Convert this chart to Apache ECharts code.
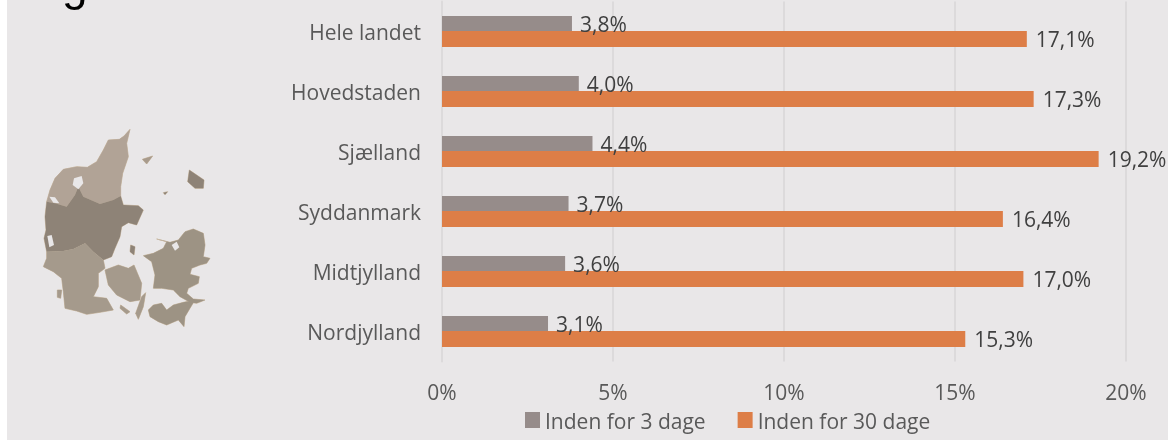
<!DOCTYPE html>
<html>
<head>
<meta charset="utf-8">
<title>Inden for 3 og 30 dage</title>
<script src="https://cdn.jsdelivr.net/npm/echarts@6/dist/echarts.min.js"></script>
<style>
html, body { margin: 0; padding: 0; background: #fff; }
.bg { position: absolute; left: 7px; top: 0; width: 1161px; height: 440px; background: #e9e7e8; }
#chart { position: absolute; left: 0; top: 0; width: 1168px; height: 440px; }
</style>
</head>
<body>
<div class="bg"></div>
<div id="chart"></div>
<script>
const categories = ["Hele landet", "Hovedstaden", "Sjælland", "Syddanmark", "Midtjylland", "Nordjylland"];
const within3 = [3.8, 4.0, 4.4, 3.7, 3.6, 3.1];
const within30 = [17.1, 17.3, 19.2, 16.4, 17.0, 15.3];
const seriesNames = ["Inden for 3 dage", "Inden for 30 dage"];
const xTicks = [0, 5, 10, 15, 20];

// kortet over Danmark, punkter læst af i 3x zoom
const mapParts = [
  { fill: "#b1a396", pts: [[390,388],[372,408],[358,418],[325,420],[310,450],[290,485],[262,502],[230,500],[190,508],[165,535],[150,570],[140,605],[165,610],[200,620],[225,585],[235,560],[250,590],[300,612],[340,600],[362,588],[362,560],[368,520],[385,470],[380,430]] },
  { fill: "#8e8377", pts: [[140,605],[135,650],[138,690],[132,715],[140,755],[190,753],[220,747],[255,730],[280,755],[310,780],[335,770],[345,745],[360,710],[365,680],[385,668],[410,675],[430,630],[415,617],[370,615],[362,588],[340,600],[300,612],[250,590],[235,560],[225,585],[200,620],[165,610]] },
  { fill: "#a59a8c", pts: [[140,755],[190,753],[220,747],[255,730],[280,755],[310,780],[315,805],[295,820],[295,860],[280,890],[320,895],[340,930],[300,937],[260,943],[230,933],[195,925],[190,875],[185,835],[160,815],[130,800],[140,775]] },
  { fill: "#a59a8c", pts: [[315,810],[355,795],[385,805],[402,795],[425,850],[420,900],[390,905],[350,885],[325,855]] },
  { fill: "#a59a8c", pts: [[437,878],[430,920],[415,958],[407,940],[425,890]] },
  { fill: "#a59a8c", pts: [[362,915],[390,935],[380,942],[360,925]] },
  { fill: "#a59a8c", pts: [[172,870],[185,870],[182,895],[172,892]] },
  { fill: "#9d9384", pts: [[430,767],[460,760],[490,745],[500,725],[470,717],[510,727],[535,720],[555,695],[580,687],[610,700],[615,735],[610,770],[630,775],[620,790],[600,795],[575,805],[570,823],[598,830],[595,850],[565,865],[560,880],[580,897],[615,900],[590,910],[570,907],[540,890],[520,870],[485,865],[460,865],[465,825],[455,785]] },
  { fill: "#9d9384", pts: [[445,930],[460,915],[485,910],[500,930],[520,915],[550,907],[585,900],[570,925],[555,950],[552,980],[535,960],[500,975],[475,965],[450,950]] },
  { fill: "#8e8377", pts: [[568,510],[612,540],[610,565],[585,565],[563,545]] },
  { fill: "#a89b8c", pts: [[427,478],[458,468],[440,492]] },
  { fill: "#8e8377", pts: [[490,578],[503,575],[495,584]] },
  { fill: "#8e8377", pts: [[392,735],[405,740],[402,765],[390,755]] },
  { fill: "#e9e7e8", pts: [[222,535],[245,528],[250,550],[235,568],[218,555]] },
  { fill: "#e9e7e8", pts: [[148,590],[165,592],[178,610],[160,608]] },
  { fill: "#e9e7e8", pts: [[142,708],[155,705],[162,735],[148,742]] },
  { fill: "#e9e7e8", pts: [[515,735],[530,725],[538,742],[525,752]] }
];

const chart = echarts.init(document.getElementById("chart"));
const pct = v => v.toFixed(1).replace(".", ",") + "%";
const font = "Open Sans";
const hole = "#e9e7e8";

// først en lys kant om alle dele, så fladerne oven på, ellers ses kanten mellem regionerne
const mapOutline = mapParts.filter(p => p.fill !== hole).map(p => ({
  type: "polygon",
  shape: { points: p.pts },
  style: { fill: "#cbbba6", stroke: "#cbbba6", lineWidth: 3 }
}));
const mapFill = mapParts.map(p => ({
  type: "polygon",
  shape: { points: p.pts },
  style: { fill: p.fill }
}));

const option = {
  animation: false,
  textStyle: { fontFamily: font },
  grid: { left: 442, right: 42, top: 1.5, height: 360 },
  legend: {
    left: 525,
    top: 412,
    padding: 0,
    itemWidth: 15,
    itemHeight: 16,
    itemGap: 32,
    icon: "rect",
    formatter: name => "{a|" + name + "}",
    textStyle: {
      color: "#595959",
      fontSize: 21,
      fontFamily: font,
      rich: { a: { color: "#595959", fontSize: 21, fontFamily: font, padding: [6, 0, 0, 0] } }
    },
    data: seriesNames
  },
  xAxis: {
    type: "value",
    min: 0,
    max: 20,
    interval: 5,
    axisLabel: { color: "#595959", fontSize: 21, margin: 22, formatter: v => xTicks.includes(v) ? v + "%" : "" },
    axisLine: { show: false },
    axisTick: { show: false },
    splitLine: { lineStyle: { color: "#dcdadb", width: 2 } }
  },
  yAxis: {
    type: "category",
    inverse: true,
    data: categories,
    axisLabel: { color: "#595959", fontSize: 21, margin: 21, verticalAlign: "top", lineHeight: 6 },
    axisLine: { lineStyle: { color: "#dcdadb", width: 2 } },
    axisTick: { show: false }
  },
  series: [
    {
      name: seriesNames[0],
      type: "bar",
      data: within3,
      barWidth: 16,
      barGap: "-6%",
      itemStyle: { color: "#968c8a" },
      label: { show: true, position: "right", distance: 8, offset: [0, 2], color: "#404040", fontSize: 21, formatter: p => pct(p.value) }
    },
    {
      name: seriesNames[1],
      type: "bar",
      data: within30,
      barWidth: 16,
      itemStyle: { color: "#dd7e47" },
      label: { show: true, position: "right", distance: 9, offset: [0, 2], color: "#404040", fontSize: 21, formatter: p => pct(p.value) }
    }
  ],
  graphic: [
    { type: "text", left: 62, top: -36, style: { text: "g", fontFamily: "Liberation Sans", fontSize: 46, fill: "#000" } },
    {
      type: "group",
      scaleX: 1 / 3,
      scaleY: 1 / 3,
      children: mapOutline.concat(mapFill)
    }
  ]
};
chart.setOption(option);
window.addEventListener("resize", () => {
  chart.resize();
});
</script>
</body>
</html>
